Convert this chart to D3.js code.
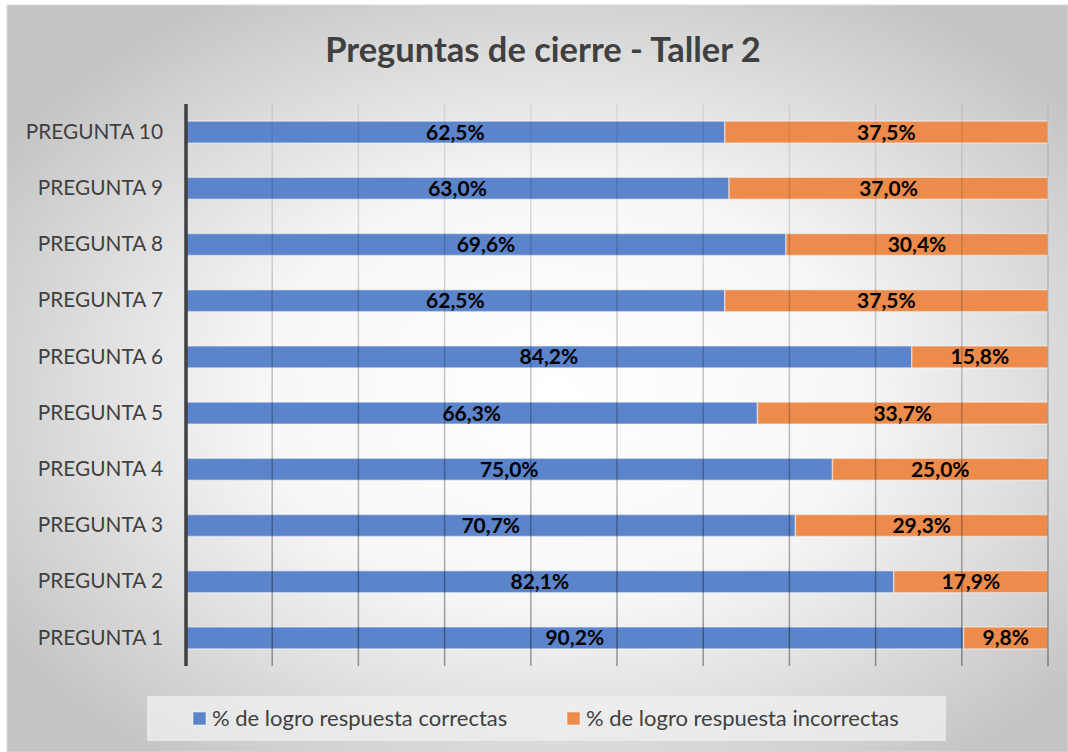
<!DOCTYPE html>
<html>
<head>
<meta charset="utf-8">
<script src="https://cdn.jsdelivr.net/npm/d3@7"></script>
<style>
  body { margin: 0; background: #fff; }
  text { font-family: Lato, "Noto Sans", sans-serif; }
</style>
</head>
<body>
<div id="graph"></div>
<script>
// datos
var categories = ["PREGUNTA 1", "PREGUNTA 2", "PREGUNTA 3", "PREGUNTA 4", "PREGUNTA 5",
                  "PREGUNTA 6", "PREGUNTA 7", "PREGUNTA 8", "PREGUNTA 9", "PREGUNTA 10"];
var correctas = [90.2, 82.1, 70.7, 75.0, 66.3, 84.2, 62.5, 69.6, 63.0, 62.5];
var incorrectas = [9.8, 17.9, 29.3, 25.0, 33.7, 15.8, 37.5, 30.4, 37.0, 37.5];
var seriesNames = ["% de logro respuesta correctas", "% de logro respuesta incorrectas"];
var xTicks = [0, 10, 20, 30, 40, 50, 60, 70, 80, 90, 100];

var w = 1068, h = 752;
var colors = ["#5b84cb", "#ec8b4b"];

var svg = d3.select("#graph")
	.append("svg")
	.attr("width", w)
	.attr("height", h);

var defs = svg.append("defs");
var bg = defs.append("radialGradient")
	.attr("id", "bg")
	.attr("cx", "52%").attr("cy", "52%").attr("r", "62%");
bg.append("stop").attr("offset", "0%").attr("stop-color", "#ffffff");
bg.append("stop").attr("offset", "45%").attr("stop-color", "#f7f7f7");
bg.append("stop").attr("offset", "100%").attr("stop-color", "#c4c4c4");

var plotTop = 104, plotBottom = 666;
var gridGrad = defs.append("linearGradient")
	.attr("id", "grid")
	.attr("gradientUnits", "userSpaceOnUse")
	.attr("x1", 0).attr("y1", plotTop).attr("x2", 0).attr("y2", plotBottom);
gridGrad.append("stop").attr("offset", "0%").attr("stop-color", "rgba(0,0,0,0.07)");
gridGrad.append("stop").attr("offset", "100%").attr("stop-color", "rgba(0,0,0,0.38)");

// fondo
svg.append("rect")
	.attr("x", 7).attr("y", 5)
	.attr("width", w - 7).attr("height", h - 5)
	.attr("fill", "url(#bg)")
	.attr("stroke", "#d9d9d9");

svg.append("text")
	.attr("x", 543)
	.attr("y", 62)
	.attr("text-anchor", "middle")
	.attr("font-size", 34.5)
	.attr("font-weight", "bold")
	.attr("fill", "#404040")
	.text("Preguntas de cierre - Taller 2");

var xScale = d3.scaleLinear()
	.domain([0, 100])
	.range([186, 1048]);
var yScale = d3.scaleBand()
	.domain(categories.slice().reverse())
	.range([plotTop, plotBottom])
	.paddingInner(0.61)
	.paddingOuter(0.305);

var stackData = categories.map(function (c, i) {
	return { cat: c, v0: correctas[i], v1: incorrectas[i] };
});

// barras
var rows = svg.append("g").selectAll("g")
	.data(stackData)
	.enter()
	.append("g");

rows.append("rect")
	.attr("x", xScale(0))
	.attr("y", function (d) { return yScale(d.cat); })
	.attr("width", function (d) { return xScale(d.v0) - xScale(0); })
	.attr("height", yScale.bandwidth())
	.attr("fill", colors[0])
	.attr("stroke", "rgba(255,255,255,0.45)")
	.attr("stroke-width", 1.5);

rows.append("rect")
	.attr("x", function (d) { return xScale(d.v0); })
	.attr("y", function (d) { return yScale(d.cat); })
	.attr("width", function (d) { return xScale(d.v0 + d.v1) - xScale(d.v0); })
	.attr("height", yScale.bandwidth())
	.attr("fill", colors[1])
	.attr("stroke", "rgba(255,255,255,0.45)")
	.attr("stroke-width", 1.5);

// lineas de cuadricula (encima de las barras, semitransparentes)
svg.append("g").selectAll("line")
	.data(xTicks.slice(1))
	.enter()
	.append("line")
	.attr("x1", function (d) { return xScale(d); })
	.attr("x2", function (d) { return xScale(d) + 0.01; })
	.attr("y1", plotTop)
	.attr("y2", plotBottom)
	.attr("stroke", "url(#grid)")
	.attr("stroke-width", 1.5);

// eje vertical
var yAxis = svg.append("g")
	.attr("transform", "translate(" + xScale(0) + ",0)")
	.call(d3.axisLeft(yScale).tickSize(0).tickPadding(23));
yAxis.select(".domain")
	.attr("stroke", "#404040")
	.attr("stroke-width", 3.5)
	.attr("d", "M0," + plotTop + "V" + plotBottom);
yAxis.selectAll("text")
	.attr("font-family", "Lato, 'Noto Sans', sans-serif")
	.attr("font-size", 20.8)
	.attr("fill", "#404040");

// etiquetas de datos
rows.append("text")
	.attr("x", function (d) { return (xScale(0) + xScale(d.v0)) / 2; })
	.attr("y", function (d) { return yScale(d.cat) + yScale.bandwidth() / 2; })
	.attr("dy", "0.36em")
	.attr("text-anchor", "middle")
	.attr("font-size", 21)
	.attr("font-weight", "bold")
	.attr("fill", "#000")
	.text(function (d) { return d.v0.toFixed(1).replace(".", ",") + "%"; });

rows.append("text")
	.attr("x", function (d) { return (xScale(d.v0) + xScale(d.v0 + d.v1)) / 2; })
	.attr("y", function (d) { return yScale(d.cat) + yScale.bandwidth() / 2; })
	.attr("dy", "0.36em")
	.attr("text-anchor", "middle")
	.attr("font-size", 21)
	.attr("font-weight", "bold")
	.attr("fill", "#000")
	.text(function (d) { return d.v1.toFixed(1).replace(".", ",") + "%"; });

// leyenda
svg.append("rect")
	.attr("x", 147).attr("y", 696)
	.attr("width", 799).attr("height", 45)
	.attr("fill", "rgba(240,240,240,0.75)");

var legendX = [193, 567];
var legend = svg.append("g").selectAll("g")
	.data(seriesNames)
	.enter()
	.append("g")
	.attr("transform", function (d, i) { return "translate(" + legendX[i] + ",712)"; });
legend.append("rect")
	.attr("width", 13).attr("height", 13)
	.attr("fill", function (d, i) { return colors[i]; })
	.attr("stroke", "rgba(255,255,255,0.5)");
legend.append("text")
	.attr("x", 19)
	.attr("y", 6.5)
	.attr("dy", "0.36em")
	.attr("font-size", 22)
	.attr("fill", "#404040")
	.text(function (d) { return d; });
</script>
</body>
</html>
